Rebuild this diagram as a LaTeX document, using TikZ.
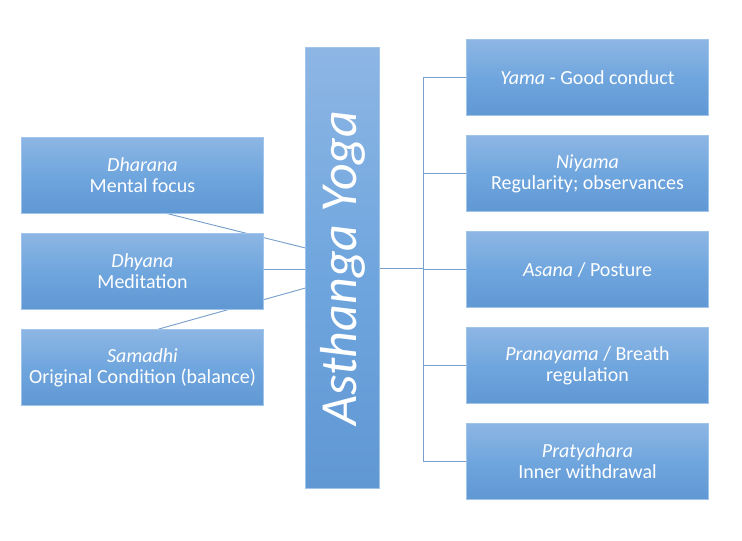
\documentclass[tikz,border=0pt]{standalone}
\usepackage{fontspec}
\setmainfont{Carlito}
\usetikzlibrary{backgrounds}
\definecolor{boxtop}{RGB}{141, 182, 228}
\definecolor{boxmid}{RGB}{112, 166, 222}
\definecolor{boxbot}{RGB}{96, 152, 212}
\definecolor{boxedge}{RGB}{160, 196, 234}
\definecolor{linkblue}{RGB}{122, 160, 204}

\begin{document}
\begin{tikzpicture}[x=0.75pt, y=-0.75pt,
	every node/.style={inner sep=2pt, text=white, align=center},
	limb/.style={rectangle, top color=boxtop, bottom color=boxbot, middle color=boxmid, draw=boxedge, line width=0.6pt, minimum width=182pt, minimum height=57pt, font=\fontsize{15}{15.5}\selectfont},
	link/.style={linkblue, line width=0.7pt}]
	
	% Fix the page to the reference size
	\useasboundingbox (0, 0) rectangle (742, 540);
	
	% --- Central Pillar ---
	\node[rectangle, top color=boxtop, bottom color=boxbot, middle color=boxmid, draw=boxedge, line width=0.6pt, minimum width=55pt, minimum height=331pt] (asthanga) at (342.5, 268) {};
	\node[rotate=90, font=\fontsize{39}{41}\selectfont\itshape] (asthangatitle) at (asthanga.center) {Asthanga Yoga};
	
	% --- Left Branch (inner limbs) ---
	\node[limb] (dharana) at (142.5, 175) {\textit{Dharana}\\Mental focus};
	\node[limb] (dhyana) at (142.5, 271) {\textit{Dhyana}\\Meditation};
	\node[limb] (samadhi) at (142.5, 367.5) {\textit{Samadhi}\\Original Condition (balance)};
	
	% --- Right Branch (outer limbs) ---
	\node[limb] (yama) at (587.5, 77.5) {\textit{Yama} - Good conduct};
	\node[limb] (niyama) at (587.5, 173.5) {\textit{Niyama}\\Regularity; observances};
	\node[limb] (asana) at (587.5, 269.5) {\textit{Asana} / Posture};
	\node[limb] (pranayama) at (587.5, 365.5) {\textit{Pranayama} / Breath\\regulation};
	\node[limb] (pratyahara) at (587.5, 461) {\textit{Pratyahara}\\Inner withdrawal};
	
	% --- Connectors (behind the boxes) ---
	\coordinate (trunk) at (423, 268);
	\begin{scope}[on background layer]
		\draw[link] ([xshift=18pt]dharana.south) -- ([yshift=15pt]asthanga.west);
		\draw[link] ([yshift=1.5pt]dhyana.east) -- ([yshift=1.5pt]dhyana.east -| asthanga.west);
		\draw[link] ([xshift=12pt]samadhi.north) -- ([yshift=-15pt]asthanga.west);
		\draw[link] (asthanga.east |- trunk) -- (trunk);
		\foreach \limbname in {yama, niyama, asana, pranayama, pratyahara} {
			\draw[link] (\limbname.west) -| (trunk);
		}
	\end{scope}
\end{tikzpicture}
\end{document}
